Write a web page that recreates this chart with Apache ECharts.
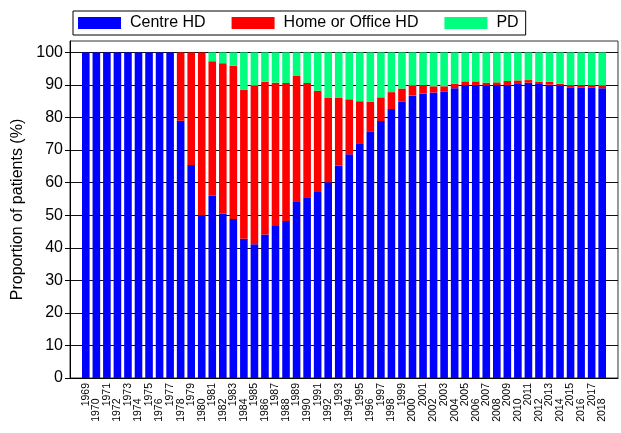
<!DOCTYPE html>
<html>
<head>
<meta charset="utf-8">
<script src="https://cdn.jsdelivr.net/npm/echarts@6/dist/echarts.min.js"></script>
<style>
  html, body { margin: 0; padding: 0; background: #fff; }
  #chart { width: 621px; height: 433px; }
</style>
</head>
<body>
<div id="chart"></div>
<script>
// years shown on the x axis
const years = [
  1969, 1970, 1971, 1972, 1973, 1974, 1975, 1976, 1977, 1978,
  1979, 1980, 1981, 1982, 1983, 1984, 1985, 1986, 1987, 1988,
  1989, 1990, 1991, 1992, 1993, 1994, 1995, 1996, 1997, 1998,
  1999, 2000, 2001, 2002, 2003, 2004, 2005, 2006, 2007, 2008,
  2009, 2010, 2011, 2012, 2013, 2014, 2015, 2016, 2017, 2018
]
// proportions (%)
const centreHD = [
  100, 100, 100, 100, 100, 100, 100, 100, 100, 79.0,
  65.4, 50.0, 56.0, 50.5, 48.8, 42.8, 41.1, 44.1, 46.7, 48.2,
  54.3, 55.5, 57.1, 60.1, 65.2, 68.7, 72.1, 75.6, 78.9, 82.6,
  84.8, 86.8, 87.4, 87.7, 87.9, 89.0, 89.9, 90.0, 89.8, 89.9,
  90.0, 90.5, 90.7, 90.3, 90.1, 89.8, 89.1, 89.2, 89.2, 89.0
]
const homeHD = [
  0, 0, 0, 0, 0, 0, 0, 0, 0, 21.0,
  34.6, 50.0, 41.3, 46.2, 47.1, 45.7, 48.7, 46.9, 44.0, 42.4,
  38.6, 35.1, 31.1, 25.9, 20.8, 16.9, 12.9, 9.2, 7.3, 5.2,
  4.1, 3.0, 2.6, 1.9, 1.7, 1.4, 1.2, 1.1, 0.9, 0.9,
  1.2, 0.9, 0.8, 0.7, 0.9, 0.6, 0.8, 0.8, 0.7, 0.8
]
const pd = [
  0, 0, 0, 0, 0, 0, 0, 0, 0, 0,
  0, 0, 2.7, 3.3, 4.1, 11.5, 10.2, 9.0, 9.3, 9.4,
  7.1, 9.4, 11.8, 14.0, 14.0, 14.4, 15.0, 15.2, 13.8, 12.2,
  11.1, 10.2, 10.0, 10.4, 10.4, 9.6, 8.9, 8.9, 9.3, 9.2,
  8.8, 8.6, 8.5, 9.0, 9.0, 9.6, 10.1, 10.0, 10.1, 10.2
]
const yTicks = [0, 10, 20, 30, 40, 50, 60, 70, 80, 90, 100]

// empty slot on each side, like the padding of the original plot
const cats = [''].concat(years.map(String), [''])
const pad = arr => [null].concat(arr, [null])

const font = 'Liberation Sans, Arial, Helvetica, sans-serif'
const myChart = echarts.init(document.getElementById('chart'))

const makeSeries = (name, data, color) => ({
  name: name,
  type: 'bar',
  stack: 'all',
  data: pad(data),
  barWidth: 7.6,
  itemStyle: { color: color },
  emphasis: { disabled: true }
})

// vertical year labels, every other one sits lower (drawn at the axis positions)
const yearLabels = {
  type: 'custom',
  silent: true,
  clip: false,
  z: 10,
  data: years.map(y => [String(y), 0]),
  encode: { x: 0, y: 1 },
  renderItem: (params, api) => {
    const pt = api.coord([api.value(0), 0])
    const shifted = params.dataIndex % 2 === 1
    return {
      type: 'text',
      x: pt[0],
      y: pt[1] + (shifted ? 20.5 : 5),
      rotation: Math.PI / 2,
      style: {
        text: String(years[params.dataIndex]),
        align: 'right',
        verticalAlign: 'middle',
        fill: '#000',
        fontSize: 10.5,
        fontFamily: font
      }
    }
  }
}

myChart.setOption({
  animation: false,
  backgroundColor: '#fff',
  textStyle: { fontFamily: font },
  legend: {
    left: 73,
    top: 11,
    padding: [4, 7, 4, 5],
    borderColor: '#000',
    borderWidth: 1,
    itemWidth: 43,
    itemHeight: 12,
    itemGap: 26,
    icon: 'rect',
    textStyle: { fontSize: 16, color: '#000', fontFamily: font, lineHeight: 16, padding: [0, 0, 0, 4] },
    data: ['Centre HD', 'Home or Office HD', 'PD']
  },
  grid: {
    left: 70,
    right: 3,
    top: 41,
    bottom: 55,
    show: true,
    borderColor: '#333',
    borderWidth: 1
  },
  xAxis: {
    type: 'category',
    data: cats,
    axisLine: { lineStyle: { color: '#000' } },
    axisTick: { show: false },
    axisLabel: { show: false }
  },
  yAxis: {
    type: 'value',
    min: 0,
    max: 103.5,
    name: 'Proportion of patients (%)',
    nameLocation: 'middle',
    nameGap: 42,
    nameTextStyle: { fontSize: 16, color: '#000', fontFamily: font },
    axisLine: { show: true, lineStyle: { color: '#000' } },
    axisTick: { show: true, length: 5, lineStyle: { color: '#000' }, customValues: yTicks },
    axisLabel: { fontSize: 16, color: '#000', margin: 7, customValues: yTicks },
    splitLine: { show: true, lineStyle: { color: '#111', width: 1.2 } }
  },
  series: [
    makeSeries('Centre HD', centreHD, '#0000ff'),
    makeSeries('Home or Office HD', homeHD, '#ff0000'),
    makeSeries('PD', pd, '#00ff7f'),
    yearLabels
  ]
})
</script>
</body>
</html>
